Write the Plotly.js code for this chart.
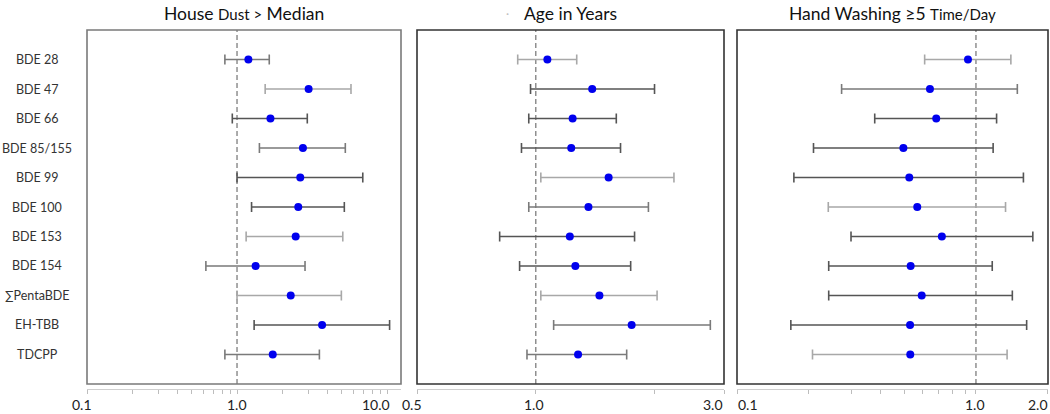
<!DOCTYPE html>
<html><head><meta charset="utf-8">
<script src="https://cdn.plot.ly/plotly-3.0.1.min.js"></script>
<style>html,body{margin:0;padding:0;background:#fff}#chart{width:1050px;height:414px}</style>
</head><body><div id="chart"></div>
<script>
// ---- data ----
const categories = ['BDE 28','BDE 47','BDE 66','BDE 85/155','BDE 99','BDE 100','BDE 153','BDE 154','\u2211PentaBDE','EH-TBB','TDCPP'];
const rowIndex = [1,2,3,4,5,6,7,8,9,10,11];

const dustEst = [1.19, 3.00, 1.67, 2.75, 2.64, 2.56, 2.46, 1.33, 2.28, 3.69, 1.73];
const dustLo  = [0.83, 1.54, 0.93, 1.41, 1.00, 1.25, 1.15, 0.62, 1.00, 1.30, 0.83];
const dustHi  = [1.64, 5.75, 2.94, 5.27, 6.89, 5.19, 5.07, 2.84, 4.96, 10.4, 3.54];

const ageEst = [1.07, 1.39, 1.24, 1.23, 1.53, 1.36, 1.22, 1.26, 1.45, 1.75, 1.28];
const ageLo  = [0.90, 0.97, 0.96, 0.92, 1.03, 0.96, 0.81, 0.91, 1.03, 1.11, 0.95];
const ageHi  = [1.27, 2.00, 1.60, 1.64, 2.24, 1.93, 1.78, 1.74, 2.03, 2.77, 1.70];

const handEst = [0.926, 0.642, 0.682, 0.497, 0.526, 0.568, 0.72, 0.533, 0.593, 0.53, 0.531];
const handLo  = [0.61, 0.274, 0.377, 0.209, 0.173, 0.241, 0.30, 0.242, 0.242, 0.168, 0.207];
const handHi  = [1.40, 1.49, 1.22, 1.18, 1.58, 1.33, 1.73, 1.17, 1.42, 1.63, 1.35];

const panelTitles = [
  'House <span style="font-size:15px">Dust &gt;</span> Median',
  'Age in Years',
  'Hand Washing \u22655 <span style="font-size:15px">Time/Day</span>'
];

// tick marks (major + minor)
const x1TickVals = [0.1,0.2,0.3,0.4,0.5,0.6,0.7,0.8,0.9,1,2,3,4,5,6,7,8,9,10];
const x2TickVals = [0.5,1,2,3];
const x3TickVals = [0.1,0.2,0.3,0.4,0.5,0.6,0.7,0.8,0.9,1,2];
// tick labels
const x1LabelVals = [0.1, 1, 10];
const x1LabelText = ['0.1', '1.0', '10.0'];
const x2LabelVals = [0.5, 1, 3];
const x2LabelText = ['0.5', '1.0', '3.0'];
const x3LabelVals = [0.1, 1, 2];
const x3LabelText = ['0.1', '1.0', '2.0'];

// ---- styles ----
const x1LabelShift = [-5, 0, -11];
const x2LabelShift = [-5, -2, -11];
const x3LabelShift = [11, -1, -10];
const DARK = '#555555', MED = '#7a7a7a', LIGHT = '#a8a8a8';
const dustShade = [MED, LIGHT, DARK, MED, DARK, DARK, LIGHT, MED, LIGHT, DARK, MED];
const ageShade  = [LIGHT, DARK, DARK, DARK, LIGHT, MED, DARK, DARK, LIGHT, MED, MED];
const handShade = [LIGHT, MED, DARK, DARK, DARK, LIGHT, DARK, DARK, DARK, DARK, LIGHT];

const FONT = 'Lato, "Open Sans", sans-serif';
const panels = [
  {est: dustEst, lo: dustLo, hi: dustHi, shade: dustShade, xa: 'x',  ya: 'y',
   lv: x1LabelVals, lt: x1LabelText, ls: x1LabelShift},
  {est: ageEst,  lo: ageLo,  hi: ageHi,  shade: ageShade,  xa: 'x2', ya: 'y2',
   lv: x2LabelVals, lt: x2LabelText, ls: x2LabelShift},
  {est: handEst, lo: handLo, hi: handHi, shade: handShade, xa: 'x3', ya: 'y3',
   lv: x3LabelVals, lt: x3LabelText, ls: x3LabelShift}
];

const traces = [];
panels.forEach(p => {
  p.est.forEach((v, i) => {
    traces.push({
      type: 'scatter', mode: 'markers',
      x: [v], y: [rowIndex[i]],
      xaxis: p.xa, yaxis: p.ya,
      marker: {color: '#0000ee', size: 8},
      error_x: {type: 'data', symmetric: false,
                array: [p.hi[i] - v], arrayminus: [v - p.lo[i]],
                color: p.shade[i], thickness: 1.6, width: 5},
      showlegend: false, hoverinfo: 'x+y'
    });
  });
});

const axisPos = (414 - 389) / 414;
function xAxis(dom, range, vals) {
  return {type: 'log', domain: dom, range: range, anchor: 'free', position: axisPos,
    showline: true, linecolor: '#cfcfcf', linewidth: 1,
    ticks: 'outside', ticklen: 4, tickcolor: '#bdbdbd', tickwidth: 1,
    tickvals: vals, showticklabels: false,
    showgrid: false, zeroline: false, fixedrange: true};
}
function yAxis(anchor) {
  return {domain: [0.0725, 0.9275], range: [12, 0], anchor: anchor,
    showticklabels: false, ticks: '', showgrid: false, zeroline: false, showline: false, fixedrange: true};
}

const doms = [[87/1050, 401/1050], [417/1050, 724/1050], [737/1050, 1048/1050]];
const frameColors = ['#7a7a7a', '#333333', '#333333'];
const shapes = [];
const annotations = [];
panels.forEach((p, k) => {
  const xa = p.xa, ya = p.ya;
  shapes.push({type: 'line', xref: xa, yref: ya + ' domain', x0: 1, x1: 1, y0: 0, y1: 1,
    line: {color: '#8f8f8f', width: 1.5, dash: '5px,3px'}, layer: 'below'});
  shapes.push({type: 'rect', xref: xa + ' domain', yref: ya + ' domain', x0: 0, x1: 1, y0: 0, y1: 1,
    line: {color: frameColors[k], width: 1.6}, layer: 'above'});
  annotations.push({text: panelTitles[k], xref: xa + ' domain', yref: 'paper', x: 0.5, y: 1 - 13/414,
    xanchor: 'center', yanchor: 'middle', showarrow: false,
    font: {family: FONT, size: 17.5, color: '#111'}});
  p.lv.forEach((v, j) => {
    annotations.push({text: p.lt[j], xref: xa, yref: 'paper', x: Math.log10(v), y: 0,
      xanchor: 'center', yanchor: 'bottom', xshift: p.ls[j], borderpad: 0, showarrow: false,
      font: {family: FONT, size: 14, color: '#222'}});
  });
});
annotations.push({text: '\u00b7', xref: 'paper', yref: 'paper', x: 507/1050, y: 1 - 13/414,
  xanchor: 'center', yanchor: 'middle', showarrow: false, font: {family: FONT, size: 12, color: '#c0c0c0'}});
categories.forEach((c, i) => {
  annotations.push({text: c, xref: 'paper', yref: 'y', x: 37/1050, y: rowIndex[i],
    xanchor: 'center', yanchor: 'middle', showarrow: false,
    font: {family: FONT, size: 12.5, color: '#333'}});
});

const layout = {
  width: 1050, height: 414,
  margin: {l: 0, r: 0, t: 0, b: 0},
  paper_bgcolor: '#fff', plot_bgcolor: '#fff',
  showlegend: false,
  xaxis:  xAxis(doms[0], [-1, 1.093], x1TickVals),
  xaxis2: xAxis(doms[1], [Math.log10(0.5), Math.log10(3)], x2TickVals),
  xaxis3: xAxis(doms[2], [-1, Math.log10(2) + 0.0005], x3TickVals),
  yaxis: yAxis('x'), yaxis2: yAxis('x2'), yaxis3: yAxis('x3'),
  shapes: shapes, annotations: annotations
};

Plotly.newPlot('chart', traces, layout, {displayModeBar: false, staticPlot: true});
</script></body></html>
